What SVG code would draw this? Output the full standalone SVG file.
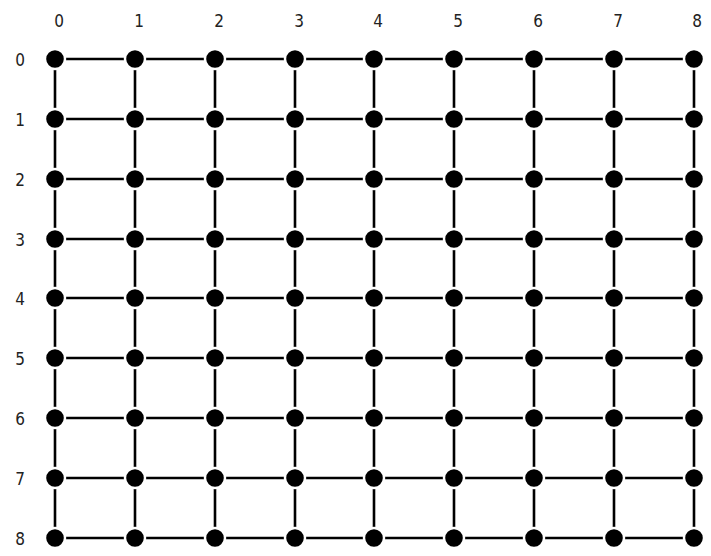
<svg xmlns="http://www.w3.org/2000/svg" width="711" height="556" viewBox="0 0 711 556">
<style>
.bg{fill:#fff}
.e line{stroke:#000;stroke-width:2.6}
.n circle{fill:#000;stroke:#fff;stroke-width:2.4}
.lbl{font-family:"DejaVu Sans Condensed","DejaVu Sans",sans-serif;font-size:17px;fill:#222;text-anchor:middle}
</style>
<rect class="bg" width="711" height="556"/>
<g id="labels" class="lbl">
<text x="59" y="27">0</text>
<text x="139" y="27">1</text>
<text x="219" y="27">2</text>
<text x="299" y="27">3</text>
<text x="378" y="27">4</text>
<text x="458" y="27">5</text>
<text x="538" y="27">6</text>
<text x="618" y="27">7</text>
<text x="697" y="27">8</text>
<text x="20" y="66">0</text>
<text x="20" y="126">1</text>
<text x="20" y="186">2</text>
<text x="20" y="246">3</text>
<text x="20" y="305">4</text>
<text x="20" y="365">5</text>
<text x="20" y="425">6</text>
<text x="20" y="485">7</text>
<text x="20" y="545">8</text>
</g>
<g id="connectors" class="e">
<line x1="55" y1="59" x2="694" y2="59"/>
<line x1="55" y1="119" x2="694" y2="119"/>
<line x1="55" y1="179" x2="694" y2="179"/>
<line x1="55" y1="239" x2="694" y2="239"/>
<line x1="55" y1="298" x2="694" y2="298"/>
<line x1="55" y1="358" x2="694" y2="358"/>
<line x1="55" y1="418" x2="694" y2="418"/>
<line x1="55" y1="478" x2="694" y2="478"/>
<line x1="55" y1="538" x2="694" y2="538"/>
<line x1="55" y1="59" x2="55" y2="538"/>
<line x1="135" y1="59" x2="135" y2="538"/>
<line x1="215" y1="59" x2="215" y2="538"/>
<line x1="295" y1="59" x2="295" y2="538"/>
<line x1="374" y1="59" x2="374" y2="538"/>
<line x1="454" y1="59" x2="454" y2="538"/>
<line x1="534" y1="59" x2="534" y2="538"/>
<line x1="614" y1="59" x2="614" y2="538"/>
<line x1="694" y1="59" x2="694" y2="538"/>
</g>
<g class="n">
<g id="n0-0"><circle cx="55" cy="59" r="10"/></g><g id="n0-1"><circle cx="135" cy="59" r="10"/></g><g id="n0-2"><circle cx="215" cy="59" r="10"/></g><g id="n0-3"><circle cx="295" cy="59" r="10"/></g><g id="n0-4"><circle cx="374" cy="59" r="10"/></g><g id="n0-5"><circle cx="454" cy="59" r="10"/></g><g id="n0-6"><circle cx="534" cy="59" r="10"/></g><g id="n0-7"><circle cx="614" cy="59" r="10"/></g><g id="n0-8"><circle cx="694" cy="59" r="10"/></g>
<g id="n1-0"><circle cx="55" cy="119" r="10"/></g><g id="n1-1"><circle cx="135" cy="119" r="10"/></g><g id="n1-2"><circle cx="215" cy="119" r="10"/></g><g id="n1-3"><circle cx="295" cy="119" r="10"/></g><g id="n1-4"><circle cx="374" cy="119" r="10"/></g><g id="n1-5"><circle cx="454" cy="119" r="10"/></g><g id="n1-6"><circle cx="534" cy="119" r="10"/></g><g id="n1-7"><circle cx="614" cy="119" r="10"/></g><g id="n1-8"><circle cx="694" cy="119" r="10"/></g>
<g id="n2-0"><circle cx="55" cy="179" r="10"/></g><g id="n2-1"><circle cx="135" cy="179" r="10"/></g><g id="n2-2"><circle cx="215" cy="179" r="10"/></g><g id="n2-3"><circle cx="295" cy="179" r="10"/></g><g id="n2-4"><circle cx="374" cy="179" r="10"/></g><g id="n2-5"><circle cx="454" cy="179" r="10"/></g><g id="n2-6"><circle cx="534" cy="179" r="10"/></g><g id="n2-7"><circle cx="614" cy="179" r="10"/></g><g id="n2-8"><circle cx="694" cy="179" r="10"/></g>
<g id="n3-0"><circle cx="55" cy="239" r="10"/></g><g id="n3-1"><circle cx="135" cy="239" r="10"/></g><g id="n3-2"><circle cx="215" cy="239" r="10"/></g><g id="n3-3"><circle cx="295" cy="239" r="10"/></g><g id="n3-4"><circle cx="374" cy="239" r="10"/></g><g id="n3-5"><circle cx="454" cy="239" r="10"/></g><g id="n3-6"><circle cx="534" cy="239" r="10"/></g><g id="n3-7"><circle cx="614" cy="239" r="10"/></g><g id="n3-8"><circle cx="694" cy="239" r="10"/></g>
<g id="n4-0"><circle cx="55" cy="298" r="10"/></g><g id="n4-1"><circle cx="135" cy="298" r="10"/></g><g id="n4-2"><circle cx="215" cy="298" r="10"/></g><g id="n4-3"><circle cx="295" cy="298" r="10"/></g><g id="n4-4"><circle cx="374" cy="298" r="10"/></g><g id="n4-5"><circle cx="454" cy="298" r="10"/></g><g id="n4-6"><circle cx="534" cy="298" r="10"/></g><g id="n4-7"><circle cx="614" cy="298" r="10"/></g><g id="n4-8"><circle cx="694" cy="298" r="10"/></g>
<g id="n5-0"><circle cx="55" cy="358" r="10"/></g><g id="n5-1"><circle cx="135" cy="358" r="10"/></g><g id="n5-2"><circle cx="215" cy="358" r="10"/></g><g id="n5-3"><circle cx="295" cy="358" r="10"/></g><g id="n5-4"><circle cx="374" cy="358" r="10"/></g><g id="n5-5"><circle cx="454" cy="358" r="10"/></g><g id="n5-6"><circle cx="534" cy="358" r="10"/></g><g id="n5-7"><circle cx="614" cy="358" r="10"/></g><g id="n5-8"><circle cx="694" cy="358" r="10"/></g>
<g id="n6-0"><circle cx="55" cy="418" r="10"/></g><g id="n6-1"><circle cx="135" cy="418" r="10"/></g><g id="n6-2"><circle cx="215" cy="418" r="10"/></g><g id="n6-3"><circle cx="295" cy="418" r="10"/></g><g id="n6-4"><circle cx="374" cy="418" r="10"/></g><g id="n6-5"><circle cx="454" cy="418" r="10"/></g><g id="n6-6"><circle cx="534" cy="418" r="10"/></g><g id="n6-7"><circle cx="614" cy="418" r="10"/></g><g id="n6-8"><circle cx="694" cy="418" r="10"/></g>
<g id="n7-0"><circle cx="55" cy="478" r="10"/></g><g id="n7-1"><circle cx="135" cy="478" r="10"/></g><g id="n7-2"><circle cx="215" cy="478" r="10"/></g><g id="n7-3"><circle cx="295" cy="478" r="10"/></g><g id="n7-4"><circle cx="374" cy="478" r="10"/></g><g id="n7-5"><circle cx="454" cy="478" r="10"/></g><g id="n7-6"><circle cx="534" cy="478" r="10"/></g><g id="n7-7"><circle cx="614" cy="478" r="10"/></g><g id="n7-8"><circle cx="694" cy="478" r="10"/></g>
<g id="n8-0"><circle cx="55" cy="538" r="10"/></g><g id="n8-1"><circle cx="135" cy="538" r="10"/></g><g id="n8-2"><circle cx="215" cy="538" r="10"/></g><g id="n8-3"><circle cx="295" cy="538" r="10"/></g><g id="n8-4"><circle cx="374" cy="538" r="10"/></g><g id="n8-5"><circle cx="454" cy="538" r="10"/></g><g id="n8-6"><circle cx="534" cy="538" r="10"/></g><g id="n8-7"><circle cx="614" cy="538" r="10"/></g><g id="n8-8"><circle cx="694" cy="538" r="10"/></g>
</g>
</svg>
